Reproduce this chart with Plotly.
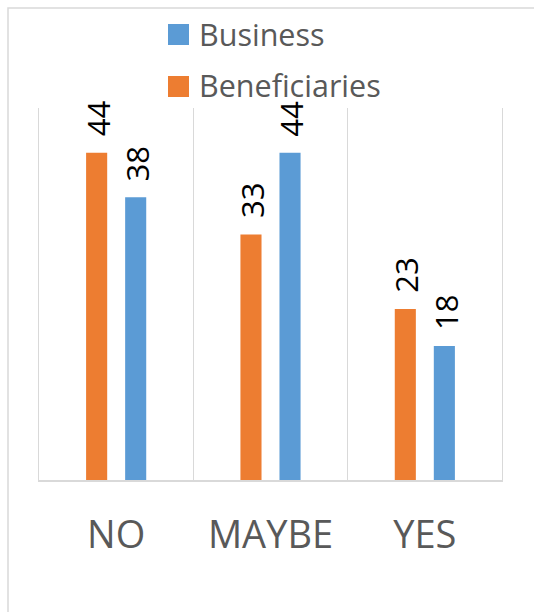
import plotly.graph_objects as go

categories = ["NO", "MAYBE", "YES"]
series_names = ["Beneficiaries", "Business"]
beneficiaries = [44, 33, 23]
business = [38, 44, 18]

colors = {"Beneficiaries": "#ED7D31", "Business": "#5B9BD5"}
values = {"Beneficiaries": beneficiaries, "Business": business}

fig = go.Figure()
for name in series_names:
    fig.add_trace(go.Bar(
        x=categories, y=values[name], name=name,
        marker=dict(color=colors[name], line=dict(width=0)),
        showlegend=False,
    ))

# data labels (rotated), placed above each bar
shifts = {"Beneficiaries": -18.5, "Business": 20.5}
for name in series_names:
    for c, v in zip(categories, values[name]):
        fig.add_annotation(
            x=c, y=v, xref="x", yref="y", text=str(v), showarrow=False,
            textangle=-90, xanchor="center", yanchor="bottom",
            xshift=shifts[name], yshift=14,
            font=dict(family="Open Sans", size=31, color="#000000"),
        )

# plot geometry helpers (pixel -> paper)
L, R, T, B = 39, 32, 108, 132
W, H = 534 - L - R, 612 - T - B
px = lambda p: (p - L) / W
py = lambda p: (612 - B - p) / H

# legend drawn manually (Business first, then Beneficiaries)
legend_order = ["Business", "Beneficiaries"]
for i, name in enumerate(legend_order):
    top = 24 + i * 52
    fig.add_shape(type="rect", xref="paper", yref="paper",
                  x0=px(168), x1=px(189), y0=py(top + 21), y1=py(top),
                  fillcolor=colors[name], line=dict(width=0))
    fig.add_annotation(xref="paper", yref="paper", x=px(197), y=py(top + 9.5),
                       text=name, showarrow=False, xanchor="left", yanchor="middle",
                       font=dict(family="Open Sans", size=30.5, color="#595959"))

# outer chart border
fig.add_shape(type="rect", xref="paper", yref="paper",
              x0=px(8), x1=px(560), y0=py(640), y1=py(8),
              line=dict(color="#D9D9D9", width=1.5), fillcolor="rgba(0,0,0,0)", layer="below")

fig.update_layout(
    width=534, height=612,
    margin=dict(l=L, r=R, t=T, b=B),
    paper_bgcolor="white", plot_bgcolor="white",
    barmode="group", bargap=0.494, bargroupgap=0.46,
    showlegend=False,
    xaxis=dict(
        tickson="boundaries", showgrid=True, gridcolor="#D9D9D9", gridwidth=1,
        showline=True, linecolor="#D9D9D9", linewidth=1.5,
        ticks="", ticklabelstandoff=21,
        tickfont=dict(family="Open Sans", size=38, color="#595959"),
        range=[-0.5, 2.5],
    ),
    yaxis=dict(
        range=[0, 50], showgrid=False, showticklabels=False, zeroline=False,
        showline=True, mirror=True, linecolor="#D9D9D9", linewidth=1,
        ticks="",
    ),
)

fig.write_html("out.html")
